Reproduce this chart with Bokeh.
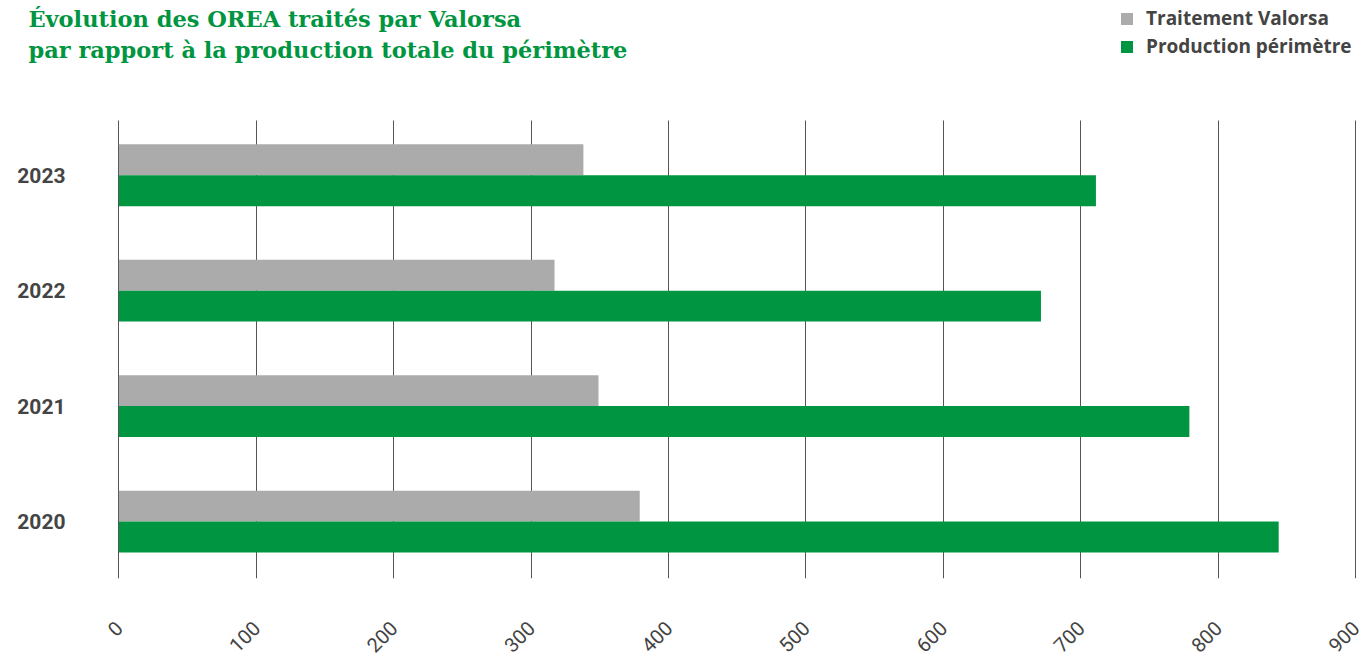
import math
from bokeh.plotting import figure
from bokeh.models import ColumnDataSource, Range1d, Label, FixedTicker, Grid
from bokeh.transform import dodge
from bokeh.core.properties import value
from bokeh.embed import file_html
from bokeh.resources import INLINE

# ---- data ----
years = ["2020", "2021", "2022", "2023"]
traitement_valorsa = [379, 349, 317, 338]
production_perimetre = [844, 779, 671, 711]
x_ticks = [0, 100, 200, 300, 400, 500, 600, 700, 800, 900]
series_names = ["Traitement Valorsa", "Production périmètre"]
title_lines = ["Évolution des OREA traités par Valorsa",
               "par rapport à la production totale du périmètre"]

GRAY = "#ABABAB"
GREEN = "#009540"
TEXT = "#444444"

pos = list(range(len(years)))
source = ColumnDataSource(dict(pos=pos, year=years, valorsa=traitement_valorsa,
                               production=production_perimetre))

p = figure(width=1362, height=661, output_backend="svg", toolbar_location=None,
           x_range=Range1d(-86.2, 905.0), y_range=Range1d(-0.493, 4.513),
           y_axis_location=None)
p.min_border_left = 0
p.min_border_right = 0
p.min_border_top = 0
p.min_border_bottom = 82
p.outline_line_color = None
p.background_fill_color = "white"
p.border_fill_color = "white"

BAR_H = 0.268
p.hbar(y=dodge("pos", BAR_H / 2), left=0, right="valorsa", height=BAR_H,
       source=source, fill_color=GRAY, line_color=None, legend_label=series_names[0])
p.hbar(y=dodge("pos", -BAR_H / 2), left=0, right="production", height=BAR_H,
       source=source, fill_color=GREEN, line_color=None, legend_label=series_names[1])

# category labels (years) on the left
p.text(x=-38.9, y="pos", text="year", source=source, text_align="right",
       text_baseline="middle", text_font=value("Roboto"), text_font_style="bold",
       text_font_size="21px", text_color=TEXT)

# x axis + vertical grid
p.xaxis.ticker = FixedTicker(ticks=x_ticks)
ax = p.xaxis[0]
ax.axis_line_color = None
ax.major_tick_line_color = None
ax.minor_tick_line_color = None
ax.major_tick_in = 0
ax.major_tick_out = 0
ax.major_label_text_color = TEXT
ax.major_label_text_font = "Roboto"
ax.major_label_text_font_size = "20px"
ax.major_label_orientation = math.pi / 4
ax.major_label_standoff = 46

for g in p.center:
    if isinstance(g, Grid):
        if g.dimension == 1:
            g.visible = False
        else:
            g.grid_line_color = "#555555"
            g.grid_line_width = 1
            g.cross_bounds = (-0.493, 3.4755)

# legend
lg = p.legend[0]
lg.location = (1119, 519)
lg.orientation = "vertical"
lg.padding = 0
lg.margin = 0
lg.spacing = 2
lg.glyph_width = 15
lg.glyph_height = 15
lg.label_height = 20
lg.label_standoff = 12
lg.label_text_font = "Open Sans"
lg.label_text_font_style = "bold"
lg.label_text_font_size = "19px"
lg.label_text_color = TEXT
lg.border_line_color = None
lg.background_fill_alpha = 0

# title (two lines)
for i, line in enumerate(title_lines):
    p.add_layout(Label(x=-65.9, y=[4.354, 4.086][i], text=line,
                       text_font="DejaVu Serif", text_font_style="bold",
                       text_font_size="22.5px", text_color=GREEN,
                       text_baseline="alphabetic", text_align="left"))

open("out.html", "w").write(file_html(p, INLINE))
